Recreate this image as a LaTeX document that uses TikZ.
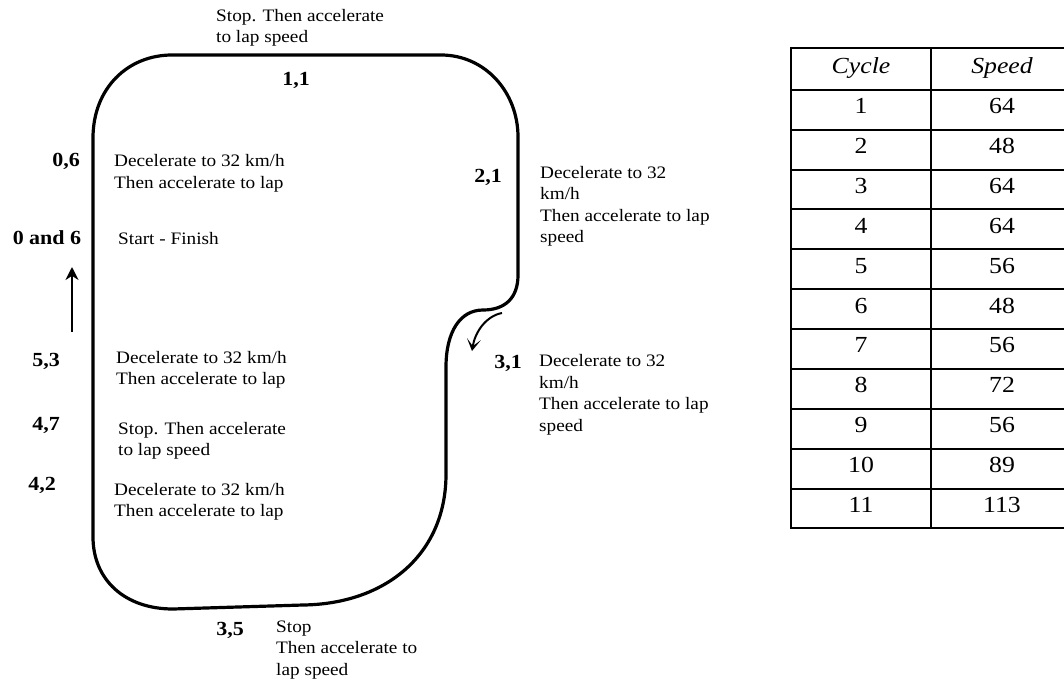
\documentclass[tikz,border=0pt]{standalone}
\usepackage{fontspec}
\setmainfont{Liberation Serif}
\newfontfamily\labfont[FakeStretch=1.1]{Liberation Serif}
\newfontfamily\tabfont[FakeStretch=1.12]{Liberation Serif}
\usetikzlibrary{arrows.meta}
\begin{document}
\begin{tikzpicture}[x=1pt,y=-1pt,
		track/.style={line width=3.2pt,line join=round},
		note/.style={font=\labfont\fontsize{17.5}{21.5}\selectfont,align=left,anchor=west,inner sep=0pt},
		num/.style={font=\labfont\bfseries\fontsize{20}{24}\selectfont,inner sep=0pt},
		tabline/.style={line width=2pt},
		cell/.style={font=\tabfont\fontsize{23}{26}\selectfont,inner sep=0pt}]
		\useasboundingbox (0,0) rectangle (1064,682);
		% Strecke
		\draw[track] (172,55) -- (441,55) .. controls (485,55) and (518,92) .. (518,137)
			-- (518,275) .. controls (518,298) and (505,310) .. (483,310)
			.. controls (460,310) and (446,332) .. (446,367)
			-- (446,474) .. controls (446,555) and (385,604) .. (303,605)
			-- (173,609) .. controls (125,609) and (93,580) .. (93,537)
			-- (93,138) .. controls (93,88) and (128,55) .. (172,55) -- cycle;
		% Fahrtrichtung
		\coordinate (dirTail) at (72,332);
		\coordinate (dirHead) at (72,267);
		\draw[line width=2pt,-{Stealth[length=13pt,width=13pt]}] (dirTail) -- (dirHead);
		\coordinate (bendA) at (502,313);
		\coordinate (bendB) at (472,351);
		\draw[line width=2pt,-{Stealth[length=12pt,width=14pt,inset=7pt]}] (bendA) .. controls (486,316) and (475,332) .. (bendB);
		% Messpunkte
		\node[num] (p11) at (296,80) {1,1};
		\node[num] (p06) at (66,161) {0,6};
		\node[num] (p0and6) at (47,238) {0 and 6};
		\node[num] (p21) at (488,177) {2,1};
		\node[num] (p53) at (46,361) {5,3};
		\node[num] (p47) at (46,425) {4,7};
		\node[num] (p42) at (42,485) {4,2};
		\node[num] (p31) at (508,363) {3,1};
		\node[num] (p35) at (230,630) {3,5};
		% Anweisungen
		\node[note] (t11) at (216,28) {Stop. Then accelerate\\to lap speed};
		\node[note] (t06) at (114,173.5) {Decelerate to 32 km/h\\Then accelerate to lap};
		\node[note] (tstart) at (118,239) {Start - Finish};
		\node[note] (t21) at (540,206.5) {Decelerate to 32\\km/h\\Then accelerate to lap\\speed};
		\node[note] (t31) at (539,395) {Decelerate to 32\\km/h\\Then accelerate to lap\\speed};
		\node[note] (t53) at (116,370) {Decelerate to 32 km/h\\Then accelerate to lap};
		\node[note] (t47) at (118,441) {Stop. Then accelerate\\to lap speed};
		\node[note] (t42) at (114,502) {Decelerate to 32 km/h\\Then accelerate to lap};
		\node[note] (t35) at (276,650) {Stop\\Then accelerate to\\lap speed};
		% Tabelle
		\draw[tabline] (791,48) -- (1064,48);
		\foreach \k in {0,...,11} {
			\draw[tabline] (791,89.9+39.86*\k) -- (1064,89.9+39.86*\k);
		}
		\draw[tabline] (791,47) -- (791,528.5);
		\draw[tabline] (931,47) -- (931,528.5);
		\node[cell] (hcycle) at (861,68) {\itshape Cycle};
		\node[cell] (hspeed) at (1002,68) {\itshape Speed};
		\foreach \c/\s [count=\i] in {1/64,2/48,3/64,4/64,5/56,6/48,7/56,8/72,9/56,10/89,11/113} {
			\node[cell] (cyc\i) at (861,89.9+39.86*\i-23.5) {\c};
			\node[cell] (spd\i) at (1002,89.9+39.86*\i-23.5) {\s};
		}
\end{tikzpicture}
\end{document}
